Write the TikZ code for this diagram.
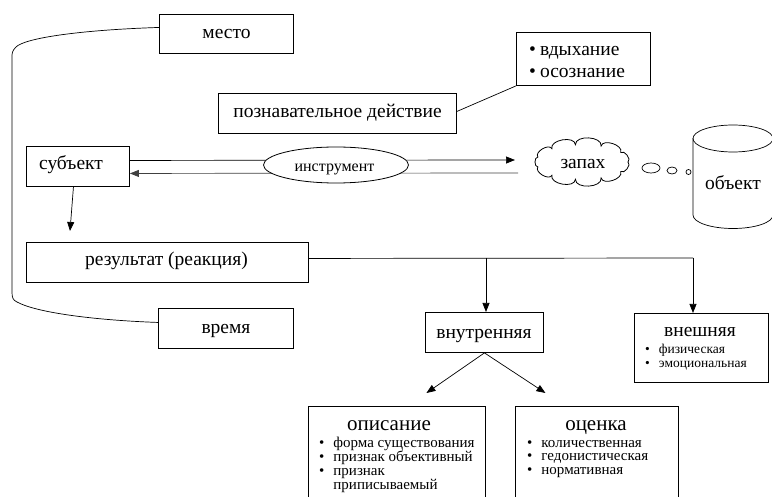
\documentclass[tikz,border=0pt]{standalone}
\usepackage{fontspec}
\setmainfont{Liberation Serif}
\usetikzlibrary{shapes.geometric,arrows.meta,calc}
\begin{document}
\begin{tikzpicture}[x=1pt,y=-1pt,
  box/.style={draw, line width=0.9pt, inner sep=0pt, anchor=north west},
  lbl/.style={inner sep=0pt, anchor=base, font=\fontsize{19.5}{22}\selectfont},
  small/.style={inner sep=0pt, anchor=base west, font=\fontsize{15}{13.7}\selectfont},
  arr/.style={-{Triangle[length=9pt,width=7pt]}, line width=0.7pt},
  ln/.style={line width=0.7pt}]
\useasboundingbox (0,0) rectangle (772,497);
\clip (0,0) rectangle (772,497);

% boxes
\node[box, minimum width=134pt, minimum height=39pt] (mesto) at (159,14) {};
\node[box, minimum width=238pt, minimum height=40pt] (poznav) at (218,93) {};
\node[box, minimum width=134pt, minimum height=53pt] (bul) at (516,32) {};
\node[box, minimum width=103pt, minimum height=40pt] (subj) at (26,146) {};
\node[box, minimum width=282pt, minimum height=40pt] (result) at (26,242) {};
\node[box, minimum width=135pt, minimum height=40pt] (vremya) at (158,308) {};
\node[box, minimum width=118pt, minimum height=40pt] (vnutr) at (425,312) {};
\node[box, minimum width=134pt, minimum height=69pt] (vnesh) at (634,313) {};
\node[box, minimum width=177pt, minimum height=120pt] (opis) at (308,406) {};
\node[box, minimum width=163pt, minimum height=120pt] (ocenka) at (515,406) {};

% cloud (drawn as puffs round an ellipse) and object
\coordinate (cloud) at (582,162);
\draw[line width=0.8pt] ($(cloud)+(46,0)$)
  \foreach \i in {1,...,11} { to[bend left=95] ($(cloud)+({46*cos(360/11*\i)},{17.5*sin(360/11*\i)})$) } -- cycle;
\node[ellipse, draw, line width=0.7pt, minimum width=18pt, minimum height=10pt, inner sep=0pt] (b1) at (651,168) {};
\node[ellipse, draw, line width=0.7pt, minimum width=10pt, minimum height=7pt, inner sep=0pt] (b2) at (672,170.5) {};
\node[ellipse, draw, line width=0.7pt, minimum width=5pt, minimum height=5pt, inner sep=0pt] (b3) at (688.5,172) {};
\draw[ln] (693,138.5) -- (693,215) arc[start angle=180,end angle=360,x radius=40pt,y radius=13.5pt] -- (773,138.5);
\draw[ln] (733,138.5) ellipse [x radius=40pt, y radius=13.5pt];

% connectors
\draw[ln] ([yshift=6.5pt]mesto.west) .. controls (80,30) and (25,38) .. (16,47)
  .. controls (12,51) and (12,53) .. (12,58) -- (12,292)
  .. controls (12,298) and (13,300) .. (17,302)
  .. controls (35,312) and (90,320) .. ([yshift=6pt]vremya.west);
\draw[ln] ([yshift=2pt]poznav.east) -- (bul.south west);
\coordinate (atip) at (515,160);
\coordinate (bstart) at (518,173);
\draw[arr] ([yshift=6pt]subj.east) -- (atip);
\draw[arr, black!75] (bstart) -- ([yshift=-7pt]subj.east);
\node[ellipse, draw, line width=0.8pt, fill=white, minimum width=145pt, minimum height=36pt, inner sep=0pt] (instr) at (336,165) {};
\draw[arr] ([xshift=-4.5pt]subj.south) -- ([xshift=44pt,yshift=11pt]result.north west);
\coordinate (jv) at (486,258);
\coordinate (jx) at (693,258);
\draw[ln] ([yshift=4pt]result.east) -- (jx);
\draw[arr] (jv) -- (jv |- vnutr.north);
\draw[arr] (jx) -- (jx |- vnesh.north);
\draw[arr] (vnutr.south) -- ([xshift=29.5pt,yshift=13pt]opis.north);
\draw[arr] (vnutr.south) -- ([xshift=-51.5pt,yshift=13pt]ocenka.north);

% texts
\node[lbl] (tmesto) at (226.5,38.5) {место};
\node[lbl] (tpoznav) at (337.5,118) {познавательное действие};
\node[lbl, anchor=base west] (tb1) at (529,56) {\textbullet\hspace{4pt}вдыхание};
\node[lbl, anchor=base west] (tb2) at (529,77.5) {\textbullet\hspace{4pt}осознание};
\node[lbl] (tsubj) at (71,170) {субъект};
\node[lbl, font=\fontsize{16}{18}\selectfont] (tinstr) at (334.5,172) {инструмент};
\node[lbl] (tzapah) at (583,168.5) {запах};
\node[lbl] (tobj) at (733,190) {объект};
\node[lbl] (tresult) at (166.5,266) {результат (реакция)};
\node[lbl] (tvremya) at (226,334) {время};
\node[lbl] (tvnutr) at (484,339) {внутренняя};
\node[lbl] (tvnesh) at (700,337) {внешняя};
\node[small, font=\fontsize{13.5}{13.5}\selectfont] (lvnesh) at (645,354) {%
  \begin{tabular}[t]{@{}l@{\hspace{9pt}}l@{}}\textbullet & физическая\\ \textbullet & эмоциональная\end{tabular}};
\node[lbl, font=\fontsize{21}{22}\selectfont] (topis) at (389,430) {описание};
\node[small] (lopis) at (319,447) {%
  \begin{tabular}[t]{@{}l@{\hspace{9pt}}l@{}}\textbullet & форма существования\\ \textbullet & признак объективный\\ \textbullet & признак\\ & приписываемый\end{tabular}};
\node[lbl, font=\fontsize{21}{22}\selectfont] (tocenka) at (596,430) {оценка};
\node[small] (locenka) at (527,447) {%
  \begin{tabular}[t]{@{}l@{\hspace{9pt}}l@{}}\textbullet & количественная\\ \textbullet & гедонистическая\\ \textbullet & нормативная\end{tabular}};
\end{tikzpicture}
\end{document}
